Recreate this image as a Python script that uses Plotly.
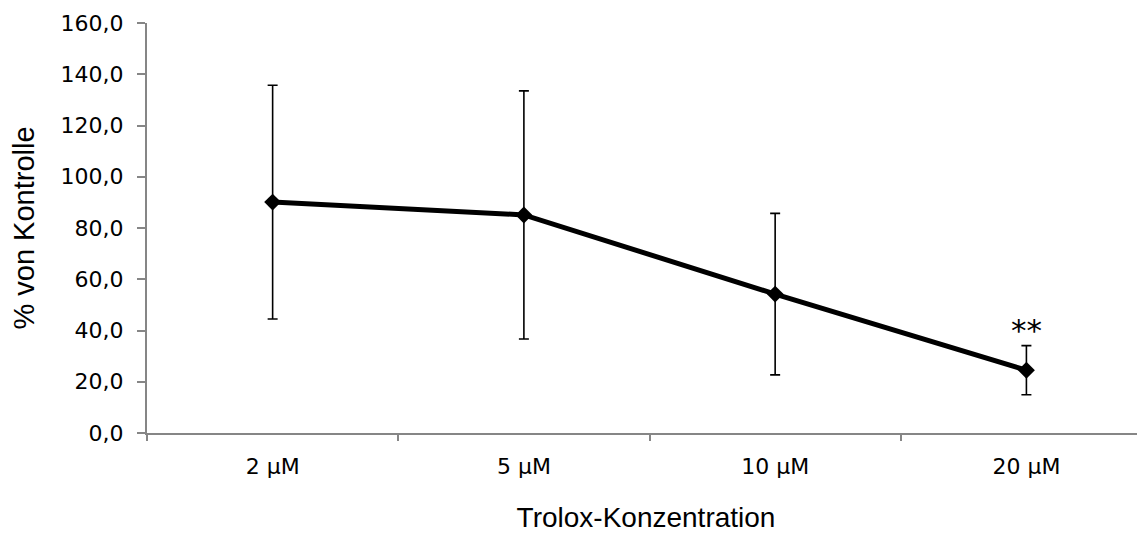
import plotly.graph_objects as go

categories = ["2 µM", "5 µM", "10 µM", "20 µM"]
values = [90.1, 85.1, 54.2, 24.5]
errors = [45.6, 48.4, 31.5, 9.6]
y_ticks = [0, 20, 40, 60, 80, 100, 120, 140, 160]
y_tick_text = ["0,0", "20,0", "40,0", "60,0", "80,0", "100,0", "120,0", "140,0", "160,0"]
significance = ["", "", "", "**"]

fig = go.Figure()
fig.add_trace(go.Scatter(
    x=categories, y=values, mode="lines+markers",
    line=dict(color="black", width=5),
    marker=dict(symbol="diamond", size=13, color="black"),
    error_y=dict(type="data", array=errors, visible=True, color="black", thickness=1.6, width=5),
    showlegend=False,
))

for c, v, e, s in zip(categories, values, errors, significance):
    if s:
        fig.add_annotation(x=c, y=v + e, text=s, showarrow=False, yanchor="middle", yshift=16,
                           font=dict(family="DejaVu Sans", size=31, color="black"))

axis_grey = "#868686"
fig.update_layout(
    width=1137, height=527,
    margin=dict(l=139, r=0, t=15, b=102),
    plot_bgcolor="white", paper_bgcolor="white",
    xaxis=dict(
        type="category", range=[-0.5, 3.472], tickson="boundaries",
        showline=True, linecolor=axis_grey, linewidth=2,
        ticks="outside", ticklen=6, tickcolor=axis_grey, tickwidth=2,
        showgrid=False, zeroline=False,
        tickfont=dict(family="DejaVu Sans", size=22, color="black"),
        ticklabelstandoff=13,
        title=dict(text="Trolox-Konzentration", font=dict(family="Liberation Sans", size=28, color="black"), standoff=29),
    ),
    yaxis=dict(
        range=[0, 160], tickvals=y_ticks, ticktext=y_tick_text,
        showline=True, linecolor=axis_grey, linewidth=2,
        ticks="outside", ticklen=8, tickcolor=axis_grey, tickwidth=2,
        showgrid=False, zeroline=False,
        tickfont=dict(family="DejaVu Sans", size=22, color="black"),
        ticklabelstandoff=9,
        title=dict(text="% von Kontrolle", font=dict(family="Liberation Sans", size=29, color="black"), standoff=20),
    ),
)

fig.write_html("out.html")
